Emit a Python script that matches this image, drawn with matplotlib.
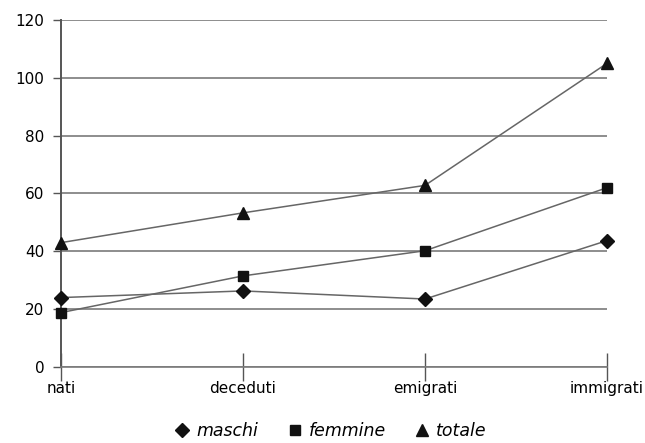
import matplotlib.pyplot as plt
from matplotlib.lines import Line2D

CATEGORIES = ["nati", "deceduti", "emigrati", "immigrati"]
MASCHI = [24.0, 26.3, 23.5, 43.7]
FEMMINE = [18.8, 31.5, 40.2, 62.0]
TOTALE = [43.0, 53.3, 62.8, 105.0]
YTICKS = [0, 20, 40, 60, 80, 100, 120]

LINE = "#666666"
INK = "#111111"

plt.rcParams.update({
    "font.family": ["DejaVu Sans"],
    "font.size": 11,
})

fig = plt.figure(figsize=(6.45, 4.43), dpi=100)
ax = fig.add_axes([0.0946, 0.1716, 0.8465, 0.7833])

x = range(len(CATEGORIES))
series = [
    ("maschi", MASCHI, "D", 7),
    ("femmine", FEMMINE, "s", 7),
    ("totale", TOTALE, "^", 8),
]
for name, ys, marker, ms in series:
    ax.plot(x, ys, color=LINE, lw=1.1, marker=marker, ms=ms,
            markerfacecolor=INK, markeredgecolor=INK, clip_on=False, zorder=3)

ax.set_xlim(0, len(CATEGORIES) - 1)
ax.set_ylim(0, 120)
ax.set_yticks(YTICKS)
ax.set_xticks(list(x))
ax.set_xticklabels(CATEGORIES)
ax.grid(axis="y", color="#7a7a7a", lw=1.2)
ax.set_axisbelow(True)

for s in ["top", "right"]:
    ax.spines[s].set_visible(False)
ax.spines["left"].set_color("#555555")
ax.spines["left"].set_linewidth(1.4)
ax.spines["bottom"].set_color("#7a7a7a")
ax.spines["bottom"].set_linewidth(1.2)
ax.tick_params(axis="x", direction="inout", length=20, width=1.0,
               color="#555555", pad=0)
ax.tick_params(axis="y", direction="out", length=6, width=1.0,
               color="#555555", pad=6)

handles = [
    Line2D([], [], ls="none", marker="D", ms=7.5, color=INK),
    Line2D([], [], ls="none", marker="s", ms=7, color=INK),
    Line2D([], [], ls="none", marker="^", ms=8.5, color=INK),
]
fig.legend(handles, ["maschi", "femmine", "totale"], loc="lower center",
           bbox_to_anchor=(0.512, -0.028), ncol=3, frameon=False,
           prop={"style": "italic", "size": 12.5}, handletextpad=0.3,
           columnspacing=1.6, handlelength=1.0)

fig.savefig("out.png", dpi=100)
